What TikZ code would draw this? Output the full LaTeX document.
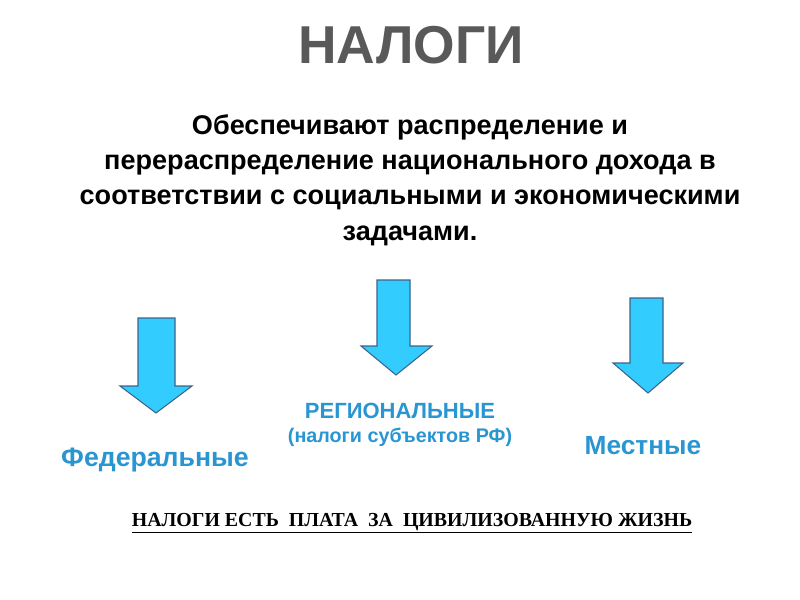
\documentclass[tikz,border=0pt]{standalone}
\usepackage{fontspec}
\setmainfont{Liberation Serif}
\setsansfont{Liberation Sans}
\definecolor{ttl}{RGB}{89,89,89}
\definecolor{arr}{RGB}{51,204,255}
\definecolor{arrb}{RGB}{60,100,140}
\definecolor{lbl}{RGB}{41,150,210}
\begin{document}
\begin{tikzpicture}[x=0.75pt,y=-0.75pt,
  downarrow/.style={fill=arr,draw=arrb,line width=0.8pt,line join=miter},
  lab/.style={font=\sffamily\bfseries,text=lbl,align=center,inner sep=0pt}]
\useasboundingbox (0,0) rectangle (800,600);
\fill[white] (0,0) rectangle (800,600);
\node[font=\sffamily\bfseries\fontsize{40}{44}\selectfont,text=ttl] (title) at (411,45) {НАЛОГИ};
\node[font=\sffamily\bfseries\fontsize{20.3}{26.5}\selectfont,align=center] (para) at (410,180)
 {Обеспечивают распределение и\\перераспределение национального дохода в\\соответствии с социальными и экономическими\\задачами.};
\draw[downarrow] (138,318) -- (175,318) -- (175,386) -- (192,386) -- (156,413) -- (120,386) -- (138,386) -- cycle;
\draw[downarrow] (377,280) -- (410,280) -- (410,346) -- (432,346) -- (396,375) -- (361,346) -- (377,346) -- cycle;
\draw[downarrow] (630,298) -- (663,298) -- (663,363) -- (683,363) -- (648,393) -- (613,363) -- (630,363) -- cycle;
\node[lab,font=\sffamily\bfseries\fontsize{20}{24}\selectfont] (fed) at (155,460) {Федеральные};
\node[lab,font=\sffamily\bfseries\fontsize{16.5}{20}\selectfont] (reg) at (400,411) {РЕГИОНАЛЬНЫЕ};
\node[lab,font=\sffamily\bfseries\fontsize{14.8}{18}\selectfont] (sub) at (400,437) {(налоги субъектов РФ)};
\node[lab,font=\sffamily\bfseries\fontsize{19.7}{24}\selectfont] (mest) at (643,446) {Местные};
\node[font=\bfseries\fontsize{14.9}{16}\selectfont] (foot) at (412,523) {\underline{НАЛОГИ ЕСТЬ\ \ ПЛАТА\ \ ЗА\ \ ЦИВИЛИЗОВАННУЮ ЖИЗНЬ}};
\end{tikzpicture}
\end{document}
